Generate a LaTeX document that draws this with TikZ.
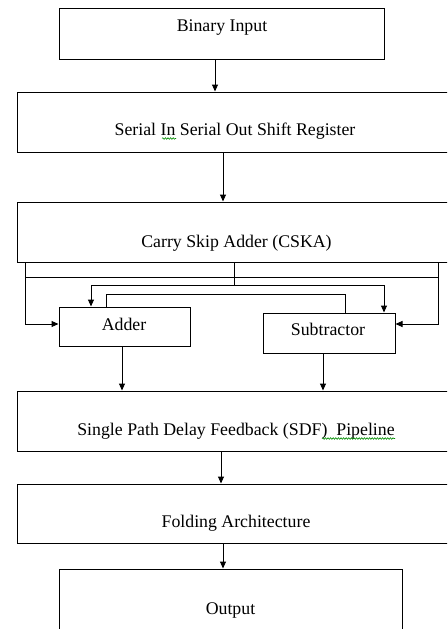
\documentclass[tikz,border=0pt]{standalone}
\usepackage{fontspec}
\setmainfont{Liberation Serif}
\usetikzlibrary{arrows.meta,decorations.pathmorphing}

\begin{document}
\begin{tikzpicture}[x=1pt,y=-1pt,
  box/.style={draw, line width=1pt, inner sep=0pt},
  lbl/.style={anchor=base, inner sep=0pt, font=\fontsize{17.8}{20}\selectfont},
  wire/.style={line width=1pt},
  arr/.style={wire, -{Triangle[length=7pt,width=6pt]}},
  squiggle/.style={green!55!black, line width=0.6pt, decorate,
    decoration={snake, amplitude=0.8pt, segment length=2.6pt}}]
\useasboundingbox (0,0) rectangle (447,629);
\clip (0,0) rectangle (447,629);

% blocks
\node[box, minimum width=325pt, minimum height=51pt] (bin)   at (221.5,33.5) {};
\node[box, minimum width=435pt, minimum height=60pt] (sisr)  at (234.5,122)  {};
\node[box, minimum width=435pt, minimum height=60pt] (cska)  at (234.5,232)  {};
\node[box, minimum width=131pt, minimum height=39pt] (adder) at (124.5,326.5) {};
\node[box, minimum width=132pt, minimum height=40pt] (sub)   at (329,333)    {};
\node[box, minimum width=435pt, minimum height=60pt] (sdf)   at (234.5,421)  {};
\node[box, minimum width=435pt, minimum height=59pt] (fold)  at (234.5,513.5) {};
\node[box, minimum width=343pt, minimum height=63pt] (out)   at (230.5,600.5) {};

% labels
\node[lbl] (tbin)   at (222,31)    {Binary Input};
\node[lbl] (tsisr)  at (235,135)   {Serial In Serial Out Shift Register};
\node[lbl] (tcska)  at (236.5,247) {Carry Skip Adder (CSKA)};
\node[lbl] (tadd)   at (124,330)   {Adder};
\node[lbl] (tsub)   at (328,335)   {Subtractor};
\node[lbl] (tsdf)   at (236,435)   {Single Path Delay Feedback (SDF)\ \ Pipeline};
\node[lbl] (tfold)  at (236,527)   {Folding Architecture};
\node[lbl] (tout)   at (230.5,614) {Output};

% spell-check marks under words
\draw[squiggle] (162,138.5) -- (176,138.5);
\draw[squiggle] (322,438.5) -- (395,438.5);

% reference columns and rows for the wiring
\coordinate (xl)   at (25,0);
\coordinate (xr)   at (438,0);
\coordinate (xa)   at (91,0);
\coordinate (xs)   at (384,0);
\coordinate (xa2)  at (106,0);
\coordinate (xs2)  at (345,0);
\coordinate (yb1)  at (0,277);
\coordinate (yb2)  at (0,285);
\coordinate (ylk)  at (0,294);
\coordinate (yin)  at (0,324);
\coordinate (x1)   at (215,0);
\coordinate (x2)   at (223,0);
\coordinate (x3)   at (122,0);
\coordinate (x4)   at (323,0);
\coordinate (x5)   at (221,0);

% main flow
\draw[arr] (x1 |- bin.south)   -- (x1 |- sisr.north);
\draw[arr] (x2 |- sisr.south)  -- (x2 |- cska.north);
\draw[arr] (x3 |- adder.south) -- (x3 |- sdf.north);
\draw[arr] (x4 |- sub.south)   -- (x4 |- sdf.north);
\draw[arr] (x5 |- sdf.south)   -- (x5 |- fold.north);
\draw[arr] (x2 |- fold.south)  -- (x2 |- out.north);

% buses from the carry skip adder
\draw[wire] (xl |- yb1) -- (xr |- yb1);
\draw[arr]  (xl |- cska.south) -- (xl |- yin) -- (adder.west |- yin);
\draw[arr]  (xr |- cska.south) -- (xr |- yin) -- (sub.east |- yin);
\draw[wire] (cska.south) -- (cska.south |- yb2);
\draw[wire] (xa |- yb2) -- (xs |- yb2);
\draw[arr]  (xa |- yb2) -- (xa |- adder.north);
\draw[arr]  (xs |- yb2) -- (xs |- sub.north);

% link between adder and subtractor
\draw[wire] (xa2 |- adder.north) |- (xs2 |- ylk) -- (xs2 |- sub.north);
\end{tikzpicture}
\end{document}
